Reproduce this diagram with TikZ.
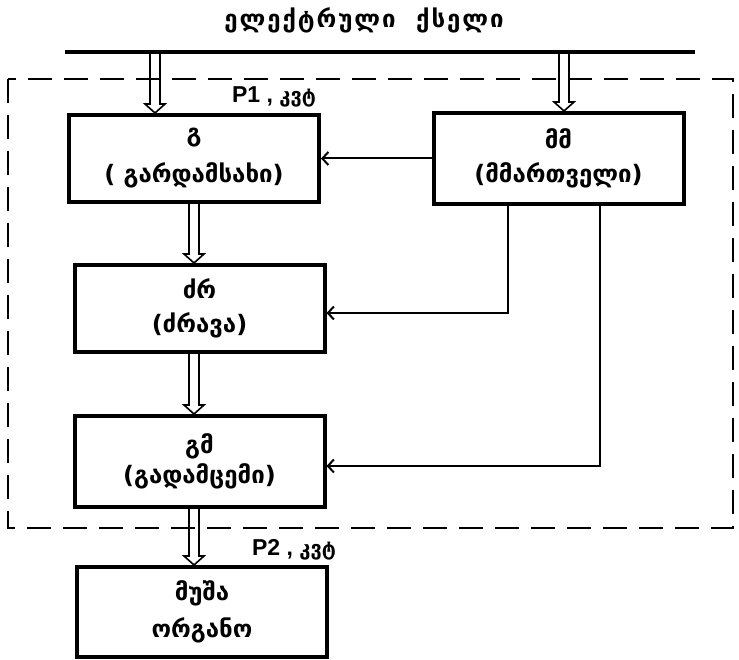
\documentclass[tikz,border=0pt]{standalone}
\usepackage{fontspec}
\setmainfont{DejaVu Sans}
\newfontfamily\latinbold{Liberation Sans}
\newfontfamily\titlefont[LetterSpace=8]{DejaVu Sans}
\usetikzlibrary{calc,arrows.meta}

% hollow (double) arrow from the x of #1 down to the y of #2
\newcommand{\hollowarrow}[2]{%
  \draw[hollow] let \p1=(#1), \p2=(#2) in
    (\x1-5pt,\y1) -- (\x1-5pt,\y2+9pt) -- (\x1-10pt,\y2+9pt) -- (\x1,\y2)
    -- (\x1+10pt,\y2+9pt) -- (\x1+5pt,\y2+9pt) -- (\x1+5pt,\y1);}

\tikzset{
  block/.style={draw, line width=4pt, minimum width=250pt, inner sep=0pt,
    align=center, font=\fontsize{24}{34}\selectfont\bfseries},
  hollow/.style={line width=1.6pt, line join=miter},
  link/.style={line width=2pt, -{Straight Barb[length=6pt,width=13pt]}},
  bus/.style={line width=4pt},
  frame/.style={line width=2.5pt, dash pattern=on 24pt off 12pt},
  powerlabel/.style={font=\latinbold\fontsize{23}{24}\selectfont\bfseries}
}

\begin{document}
\begin{tikzpicture}[x=1pt, y=-1pt]
  \useasboundingbox (0,0) rectangle (739,660);

  % supply network
  \node[font=\titlefont\fontsize{24}{26}\selectfont\bfseries] (title) at (364,20)
    {ელექტრული\ \ ქსელი};
  \coordinate (busW) at (65,52);
  \coordinate (busE) at (695,52);
  \coordinate (tapG) at (155,52);
  \coordinate (tapM) at (564,52);

  % drive boundary
  \draw[frame] (8,79) rectangle (733,528);

  % blocks
  \node[block, minimum height=87pt] (g) at (194,158.5)
    {გ\\[7pt]( გარდამსახი)};
  \node[block, minimum height=91pt] (mm) at (558.5,158.5)
    {მმ\\(მმართველი)};
  \node[block, minimum height=87pt] (dzr) at (199.5,308.5)
    {ძრ\\(ძრავა)};
  \node[block, minimum height=91pt] (gm) at (199.5,461.5)
    {გმ\\[-4pt](გადამცემი)};
  \node[block, minimum height=90pt] (wo) at (202,612)
    {მუშა\\[3pt]ორგანო};

  \node[powerlabel] (p1) at (274,97)
    {P1 , {\fontspec{DejaVu Sans}\fontsize{20}{22}\selectfont\bfseries კვტ}};
  \node[powerlabel] (p2) at (294,550)
    {P2 , {\fontspec{DejaVu Sans}\fontsize{20}{22}\selectfont\bfseries კვტ}};

  % power flow
  \hollowarrow{tapG}{tapG |- g.north}
  \hollowarrow{tapM}{tapM |- mm.north}
  \hollowarrow{g.south}{dzr.north}
  \hollowarrow{dzr.south -| g.south}{gm.north}
  \hollowarrow{gm.south -| g.south}{wo.north}
  \draw[bus] (busW) -- (busE);

  % control signals
  \coordinate (ctlA) at (508,313);
  \coordinate (ctlB) at (600,466);
  \draw[link] (mm.west) -- (g.east);
  \draw[link] (mm.south -| ctlA) -- (ctlA) -- (ctlA -| dzr.east);
  \draw[link] (mm.south -| ctlB) -- (ctlB) -- (ctlB -| gm.east);
\end{tikzpicture}
\end{document}
